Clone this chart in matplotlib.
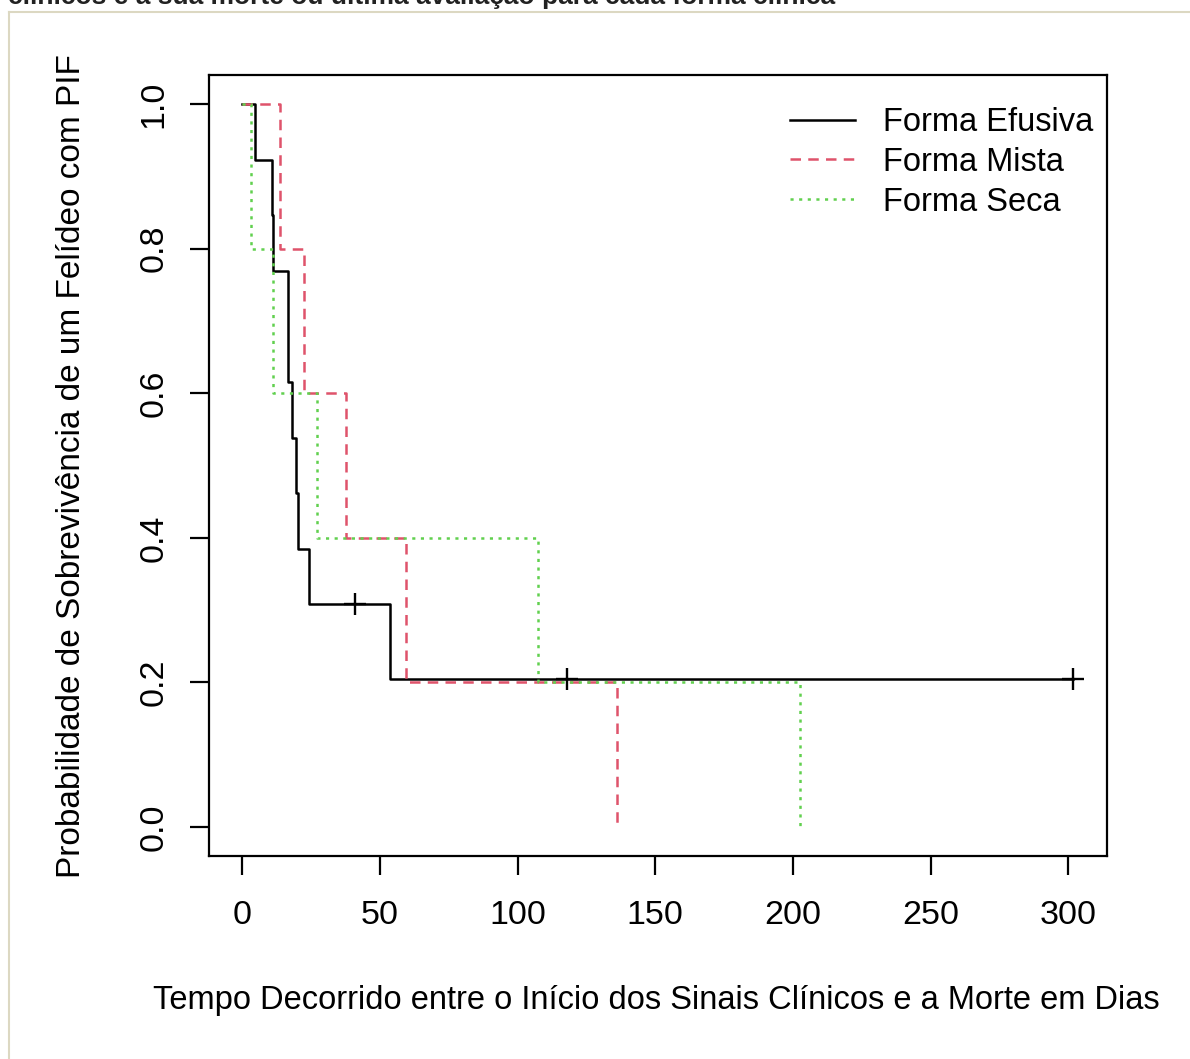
import matplotlib
matplotlib.use("Agg")
import matplotlib.pyplot as plt
from matplotlib.lines import Line2D

plt.rcParams['font.family'] = ['Liberation Sans', 'DejaVu Sans']

# values (days, survival probability)
efusiva_t = [0, 4.5, 10.7, 11.3, 16.7, 18.2, 19.5, 20.2, 24.3, 53.6, 301.7]
efusiva_s = [1.0, 0.923, 0.846, 0.769, 0.615, 0.538, 0.462, 0.385, 0.308, 0.205, 0.205]
efusiva_cens_t = [40.8, 117.9, 301.7]
efusiva_cens_s = [0.308, 0.205, 0.205]

mista_t = [0, 13.6, 22.6, 37.5, 59.5, 136.0]
mista_s = [1.0, 0.8, 0.6, 0.4, 0.2, 0.0]

seca_t = [0, 3.1, 11.3, 27.1, 107.3, 202.7]
seca_s = [1.0, 0.8, 0.6, 0.4, 0.2, 0.0]

labels = ["Forma Efusiva", "Forma Mista", "Forma Seca"]
xticks = [0, 50, 100, 150, 200, 250, 300]
yticks = [0.0, 0.2, 0.4, 0.6, 0.8, 1.0]

W, H = 1190, 1059
fig = plt.figure(figsize=(W / 100, H / 100), dpi=100)
ax = fig.add_axes([209 / W, 1 - 856 / H, (1107 - 209) / W, (856 - 75) / H])

lw = 1.8
ax.step(efusiva_t, efusiva_s, where='post', color='black', lw=lw, label=labels[0])
ax.step(mista_t, mista_s, where='post', color='#DF536B', lw=lw, dashes=(4.2, 2.9), label=labels[1])
ax.step(seca_t, seca_s, where='post', color='#61D04F', lw=lw, dashes=(1.25, 2.2), label=labels[2])
ax.plot(efusiva_cens_t, efusiva_cens_s, '+', color='black', ms=16, mew=1.7)

ax.set_xlim(-12.08, 314.08)
ax.set_ylim(-0.04, 1.04)
ax.set_xticks(xticks)
ax.set_xticklabels([str(v) for v in xticks])
ax.set_yticks(yticks)
ax.set_yticklabels(["%.1f" % v for v in yticks], rotation=90, va='center')
ax.tick_params(direction='out', length=13.7, width=1.6, labelsize=24.5, colors='black')
ax.tick_params(axis='x', pad=18)
ax.tick_params(axis='y', pad=15)
for sp in ax.spines.values():
    sp.set_linewidth(1.6)

leg = ax.legend(loc='upper left', bbox_to_anchor=(790 / W, 1 - 107 / H), bbox_transform=fig.transFigure,
                frameon=False, fontsize=23.5, handlelength=2.0, handletextpad=0.85,
                labelspacing=0.27, borderpad=0, borderaxespad=0)

fig.text(656 / W, 1 - 1009 / H, "Tempo Decorrido entre o Início dos Sinais Clínicos e a Morte em Dias",
         ha='center', va='baseline', fontsize=23.5)
fig.text(72 / W, 1 - 466 / H, "Probabilidade de Sobrevivência de um Felídeo com PIF",
         ha='center', va='center', rotation=90, fontsize=24)

# cut-off caption above the frame, as in the page screenshot
fig.text(8 / W, 1 - 4 / H, "clínicos e a sua morte ou última avaliação para cada forma clínica",
         ha='left', va='baseline', fontsize=19, fontweight='bold', color='#222222')

frame_c = '#dcd8c2'
fig.add_artist(Line2D([9 / W, 1], [1 - 12 / H, 1 - 12 / H], transform=fig.transFigure, color=frame_c, lw=1.5))
fig.add_artist(Line2D([9 / W, 9 / W], [0, 1 - 12 / H], transform=fig.transFigure, color=frame_c, lw=1.5))

fig.savefig("out.png", dpi=100)
